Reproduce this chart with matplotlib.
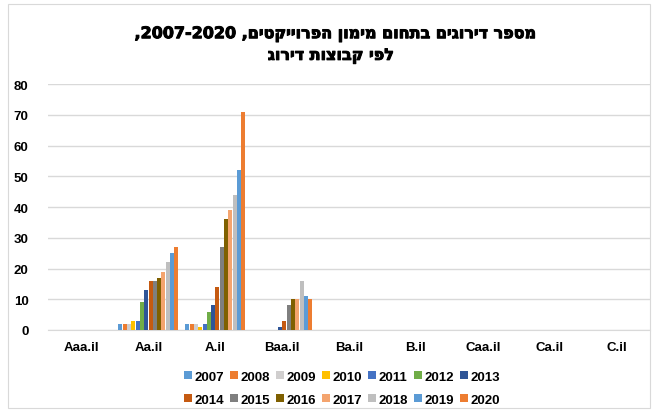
import matplotlib
matplotlib.use("Agg")
import matplotlib.pyplot as plt
import matplotlib.patheffects as pe
import numpy as np
from matplotlib.patches import Rectangle

plt.rcParams['font.family'] = ['Liberation Sans', 'DejaVu Sans']
plt.rcParams['font.weight'] = 'bold'

categories = ['Aaa.il', 'Aa.il', 'A.il', 'Baa.il', 'Ba.il', 'B.il', 'Caa.il', 'Ca.il', 'C.il']
years = ['2007', '2008', '2009', '2010', '2011', '2012', '2013',
         '2014', '2015', '2016', '2017', '2018', '2019', '2020']

# ratings per year, rows = years, columns = categories
aa_il = [2, 2, 2, 3, 3, 9, 13, 16, 16, 17, 19, 22, 25, 27]
a_il = [2, 2, 2, 1, 2, 6, 8, 14, 27, 36, 39, 44, 52, 71]
baa_il = [0, 0, 0, 0, 0, 0, 1, 3, 8, 10, 10, 16, 11, 10]
zeros = [0] * 14
values = np.array([zeros, aa_il, a_il, baa_il, zeros, zeros, zeros, zeros, zeros]).T

colors = ['#5B9BD5', '#ED7D31', '#D0CECE', '#FFC000', '#4472C4', '#70AD47', '#2F5597',
          '#C55A11', '#7F7F7F', '#7F6000', '#F4A46E', '#BFBFBF', '#5B9BD5', '#ED7D31']

# title: hebrew drawn left to right, so give it in visual order
line1_words = ['מספר', 'דירוגים', 'בתחום', 'מימון', 'הפרוייקטים']
line1 = ',2007-2020 ,' + ' '.join(w[::-1] for w in line1_words[::-1])
line2 = 'לפי קבוצות דירוג'[::-1]

fig = plt.figure(figsize=(6.58, 4.14), dpi=100)
fig.patches.append(Rectangle((0.012, 0.012), 0.976, 0.976, transform=fig.transFigure,
                             fill=False, edgecolor='#D9D9D9', linewidth=0.8))

ax = fig.add_axes([0.073, 0.2005, 0.915, 0.594])
x = np.arange(len(categories))
n = len(years)
w = 0.9 / n
bars = []
for i in range(n):
    b = ax.bar(x - 0.45 + w * (i + 0.5), values[i], width=w * 0.92, color=colors[i],
               label=years[i], zorder=3)
    bars.append(b)

ax.set_xlim(-0.5, len(categories) - 0.5)
ax.set_ylim(0, 80)
ax.set_yticks(range(0, 81, 10))
ax.set_xticks(x)
ax.set_xticklabels(categories)
ax.grid(axis='y', color='#D9D9D9', linewidth=1, zorder=0)
for s in ['top', 'right', 'left']:
    ax.spines[s].set_visible(False)
ax.spines['bottom'].set_color('#D9D9D9')
ax.tick_params(length=0, labelsize=9.5)
ax.tick_params(axis='x', pad=8)
ax.tick_params(axis='y', pad=14)

thick = [pe.withStroke(linewidth=0.7, foreground='black')]
fig.text(0.51, 0.915, line1, ha='center', va='center', fontsize=11.5, fontweight='bold',
         family=['DejaVu Sans'], path_effects=thick)
fig.text(0.503, 0.862, line2, ha='center', va='center', fontsize=11.5, fontweight='bold',
         family=['DejaVu Sans'], path_effects=thick)

# legend filled row by row: reorder for column-major layout
order = []
for c in range(7):
    order += [c, c + 7]
fig.legend([bars[k] for k in order], [years[k] for k in order],
           loc='center', bbox_to_anchor=(0.52, 0.06), ncol=7, frameon=False,
           fontsize=9.5, handlelength=0.6, handleheight=0.6, handletextpad=0.2,
           columnspacing=0.45, labelspacing=0.85)

fig.savefig('out.png', dpi=100)
